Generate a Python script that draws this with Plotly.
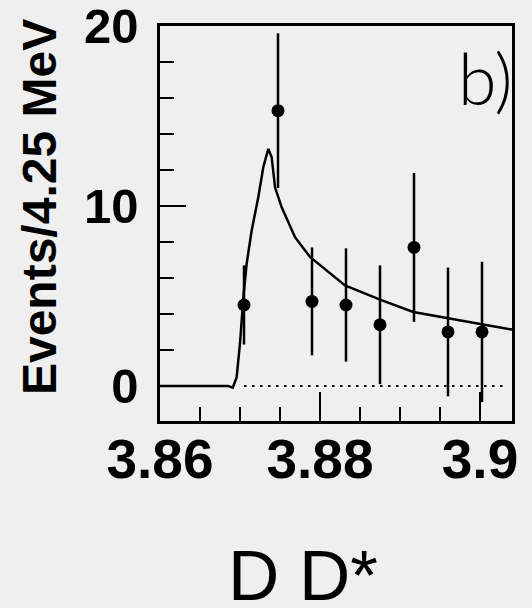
import plotly.graph_objects as go

# ---- data ----
bin_centers = [3.8705, 3.87475, 3.8790, 3.88325, 3.8875, 3.89175, 3.8960, 3.90025]
events = [4.5, 15.3, 4.7, 4.5, 3.4, 7.7, 3.0, 3.0]
event_errors = [2.2, 4.3, 3.0, 3.15, 3.3, 4.14, 3.58, 3.9]

fit_x = [3.8600, 3.8685, 3.8691, 3.86958, 3.8700, 3.87042, 3.87083, 3.87146,
         3.87229, 3.87291, 3.87354, 3.87396, 3.87438, 3.87521, 3.87688,
         3.87875, 3.88313, 3.8875, 3.89166, 3.89604, 3.90021, 3.9040]
fit_y = [0.0, 0.0, -0.1, 0.49, 2.36, 4.93, 6.79, 8.64,
         10.5, 12.16, 13.18, 12.71, 11.04, 9.93, 8.27,
         7.17, 5.59, 4.8, 4.11, 3.74, 3.43, 3.13]

baseline_x = [3.8705, 3.9035]
baseline_y = [0, 0]

x_tickvals = [3.86, 3.88, 3.90]
x_ticktext = ["3.86", "3.88", "3.9"]
y_tickvals = [0, 10, 20]
y_ticktext = ["0", "10", "20"]

x_range = [3.86, 3.9040]
y_range = [-1.95, 20.01]

BG = "rgb(239,239,239)"

fig = go.Figure()

fig.add_trace(go.Scatter(
    x=baseline_x, y=baseline_y, mode="lines",
    line=dict(color="black", width=2, dash="2.5px,5.5px"),
    hoverinfo="skip", showlegend=False))

fig.add_trace(go.Scatter(
    x=fit_x, y=fit_y, mode="lines",
    line=dict(color="black", width=2.5),
    showlegend=False))

fig.add_trace(go.Scatter(
    x=bin_centers, y=events, mode="markers",
    marker=dict(color="black", size=13),
    error_y=dict(type="data", array=event_errors, color="black",
                 thickness=2.5, width=0),
    showlegend=False))

fig.update_layout(
    width=532, height=608,
    margin=dict(l=160, r=20, t=26, b=187, autoexpand=False),
    paper_bgcolor=BG, plot_bgcolor=BG,
    showlegend=False,
    xaxis=dict(
        range=x_range, tickmode="array", tickvals=x_tickvals, ticktext=x_ticktext,
        ticks="inside", ticklen=29, tickwidth=2, tickcolor="black",
        minor=dict(tickmode="linear", tick0=3.86, dtick=0.005, ticks="inside",
                   ticklen=14, tickwidth=2, tickcolor="black"),
        showline=True, linecolor="black", linewidth=2.5, mirror=True,
        showgrid=False, zeroline=False, automargin=False,
        ticklabeloverflow="allow",
        tickfont=dict(family="Liberation Sans", size=55, color="black", weight="bold"),
        ticklabelstandoff=-12,
    ),
    yaxis=dict(
        range=y_range, tickmode="array", tickvals=y_tickvals, ticktext=y_ticktext,
        ticks="inside", ticklen=26, tickwidth=2, tickcolor="black",
        minor=dict(tickmode="linear", tick0=0, dtick=2, ticks="inside",
                   ticklen=14, tickwidth=2, tickcolor="black"),
        showline=True, linecolor="black", linewidth=2.5, mirror=True,
        showgrid=False, zeroline=False, automargin=False,
        ticklabeloverflow="allow",
        tickfont=dict(family="Liberation Sans", size=49, color="black", weight="bold"),
        ticklabelstandoff=9,
    ),
    annotations=[
        dict(text="Events/4.25 MeV", xref="paper", yref="paper",
             x=(39 - 160) / 351.7, y=(420.7 - 207) / 394.7,
             xanchor="center", yanchor="middle", textangle=-90, showarrow=False,
             font=dict(family="Liberation Sans", size=48, color="black", weight="bold")),
        dict(text="D D*", xref="paper", yref="paper",
             x=(302.7 - 160) / 351.7, y=(420.7 - 575) / 394.7,
             xanchor="center", yanchor="middle", showarrow=False,
             font=dict(family="Liberation Sans", size=71, color="black")),
        dict(text="b)", xref="paper", yref="paper",
             x=1.008, y=(420.7 - 77.5) / 394.7,
             xanchor="right", yanchor="middle", showarrow=False,
             font=dict(family="Lato", size=70, color="black", weight=300)),
    ],
)

fig.write_html("out.html",
               config={"displayModeBar": False},
               post_script="document.body.style.margin='0';document.body.style.background='rgb(239,239,239)';")
